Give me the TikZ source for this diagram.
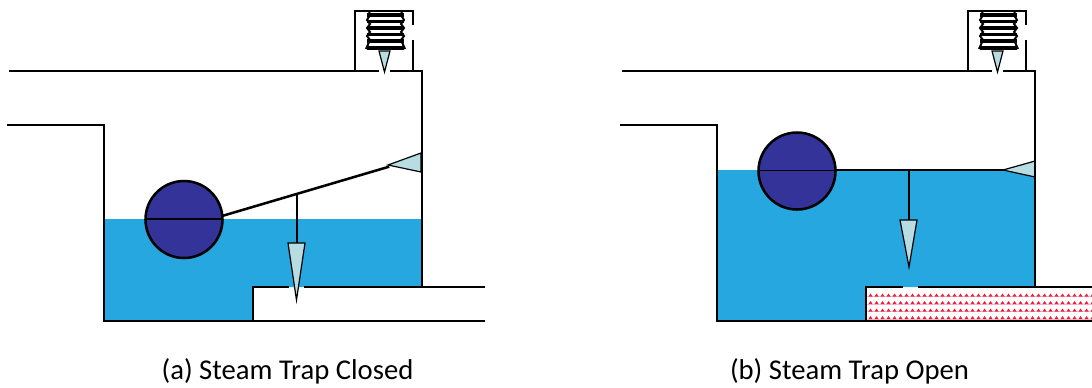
\documentclass[tikz,border=0pt]{standalone}
\usepackage{fontspec}
\setmainfont{Carlito}
\definecolor{water}{HTML}{27A7E0}
\definecolor{ballc}{HTML}{333399}
\definecolor{valve}{HTML}{B7DDE3}
\definecolor{heat}{HTML}{EE1C3C}
\tikzset{
 wall/.style={draw=black,line width=1.9pt,line cap=rect},
 thin wall/.style={draw=black,line width=1.4pt},
 needle/.style={draw=black,line width=0.9pt,fill=valve,line join=miter},
 ball/.style={draw=black,line width=1.9pt,fill=ballc},
 thread/.style={draw=black,line width=2.5pt},
 flank/.style={draw=black,line width=1.5pt},
 caption/.style={font=\fontsize{21.5pt}{25pt}\selectfont,inner sep=0pt,text=black}
}
\newcommand{\screwpart}[1]{%
 \begin{scope}[xshift=#1*0.75pt]
  \draw[wall] (355,71) -- (355,11) -- (413,11) -- (413,24);
  \draw[wall] (413,41) -- (413,71);
  \draw[flank] (369,11) -- (370,15) -- (367,20) -- (370,24) -- (367,28) -- (370,32) -- (367,36) -- (370,40) -- (366,49);
  \draw[flank] (402,11) -- (401,15) -- (404,20) -- (401,24) -- (404,28) -- (401,32) -- (404,36) -- (401,40) -- (405,49);
  \foreach \yy in {15,21.5,28,34.5,41,48}{\draw[thread] (367,\yy) -- (404,\yy);}
  \draw[needle] (379,51) -- (390,51) -- (384.5,72) -- cycle;
 \end{scope}}
\begin{document}
\begin{tikzpicture}[x=0.75pt,y=-0.75pt]
\useasboundingbox (0,0) rectangle (1092,387);
% ---------- panel (a)
\fill[water] (104,219) -- (422,219) -- (422,287) -- (253,287) -- (253,321) -- (104,321) -- cycle;
\draw[needle] (388,165) -- (421,153) -- (421,172) -- cycle;
\draw[wall] (10,71) -- (378,71);
\draw[wall] (391,71) -- (422,71) -- (422,287);
\draw[wall] (8,125) -- (104,125) -- (104,321) -- (484,321);
\draw[wall] (253,321) -- (253,287) -- (288,287);
\draw[wall] (305,287) -- (484,287);
\draw[wall] (222,216) -- (388,167);
\draw[wall] (297,194) -- (297,243);
\draw[needle] (288,243) -- (305,243) -- (296.5,300) -- cycle;
\draw[ball] (184,219.5) circle[radius=38.5*0.75pt];
\draw[thin wall] (145,219) -- (223,219);
\screwpart{0}
% ---------- panel (b)
\fill[water] (717,170) -- (1035,170) -- (1035,287) -- (866,287) -- (866,321) -- (717,321) -- cycle;
\fill[white] (867,288) rectangle (1092,320);
\foreach \ry in {296,303.5,311,318.5}{
 \fill[heat!30] (867,\ry) rectangle (1092,\ry+1);
 \foreach \rx in {868,874,...,1090}{
  \fill[heat] (\rx+0.5,\ry+0.5) -- (\rx+4.5,\ry+0.5) -- (\rx+2.5,\ry-2.5) -- cycle;
 }
}
\draw[needle] (1003,170) -- (1035,161) -- (1035,177) -- cycle;
\draw[wall] (623,71) -- (991,71);
\draw[wall] (1004,71) -- (1035,71) -- (1035,287);
\draw[wall] (621,125) -- (717,125) -- (717,321) -- (1092,321);
\draw[wall] (866,321) -- (866,287) -- (902,287);
\draw[wall] (919,287) -- (1092,287);
\draw[wall] (835,170) -- (1004,170);
\draw[wall] (909,170) -- (909,220);
\draw[needle] (900,220) -- (917,220) -- (909,267) -- cycle;
\draw[ball] (797,171) circle[radius=38.5*0.75pt];
\draw[thin wall] (758,170.5) -- (836,170.5);
\screwpart{613}
% ---------- captions
\node[caption] (capa) at (287.5,371) {(a) Steam Trap Closed};
\node[caption] (capb) at (849.5,371) {(b) Steam Trap Open};
\end{tikzpicture}
\end{document}
